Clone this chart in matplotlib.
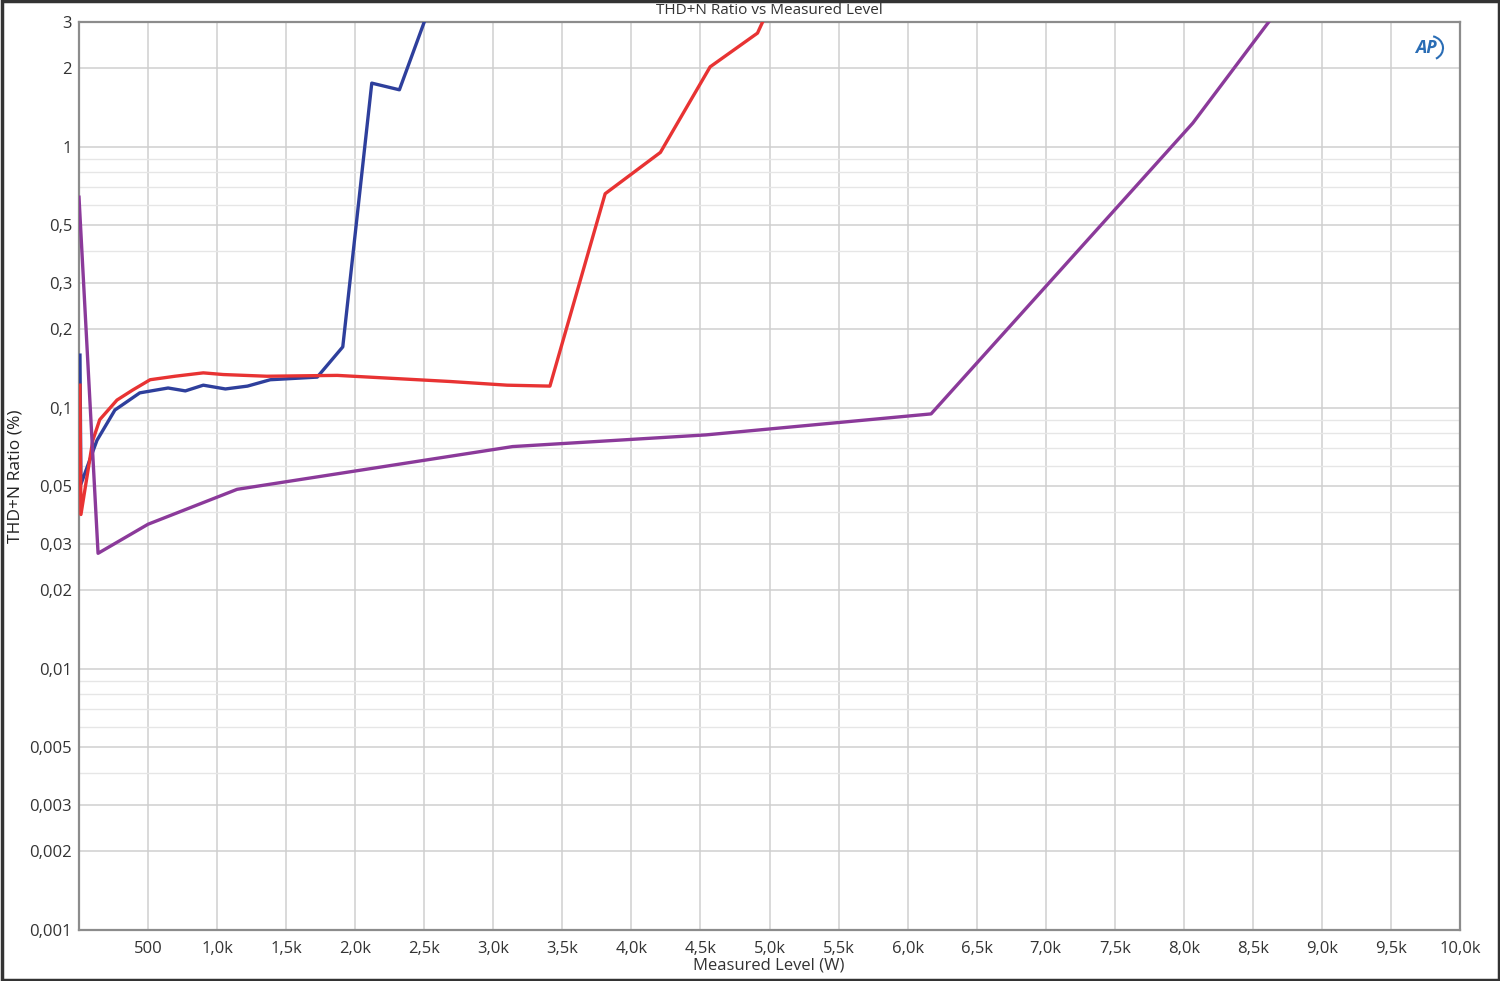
import matplotlib
matplotlib.use("Agg")
import matplotlib.pyplot as plt
from matplotlib.ticker import FixedLocator, NullFormatter, LogLocator
from matplotlib.patches import Rectangle, Arc

plt.rcParams['font.family'] = ['Open Sans', 'DejaVu Sans']

# ---- data ----
blue_x = [7, 14, 130, 260, 440, 645, 770, 900, 1060, 1220, 1385, 1725, 1910, 2120, 2320, 2500]
blue_y = [0.159, 0.051, 0.075, 0.098, 0.114, 0.119, 0.116, 0.122, 0.118, 0.121, 0.128, 0.131,
          0.171, 1.75, 1.65, 3.0]

red_x = [7, 14, 100, 150, 275, 390, 515, 695, 900, 1045, 1360, 1870, 2690, 3100, 3410,
         3810, 4210, 4570, 4913, 4950]
red_y = [0.122, 0.039, 0.075, 0.090, 0.107, 0.117, 0.128, 0.132, 0.136, 0.134, 0.132, 0.133,
         0.126, 0.122, 0.121, 0.66, 0.95, 2.02, 2.72, 3.0]

purple_x = [0, 138, 500, 1145, 3140, 4540, 6170, 8065, 8615]
purple_y = [0.64, 0.0277, 0.0358, 0.0487, 0.071, 0.0787, 0.0947, 1.23, 3.0]

x_ticks = [500, 1000, 1500, 2000, 2500, 3000, 3500, 4000, 4500, 5000, 5500, 6000, 6500,
           7000, 7500, 8000, 8500, 9000, 9500, 10000]
x_labels = ["500", "1,0k", "1,5k", "2,0k", "2,5k", "3,0k", "3,5k", "4,0k", "4,5k", "5,0k",
            "5,5k", "6,0k", "6,5k", "7,0k", "7,5k", "8,0k", "8,5k", "9,0k", "9,5k", "10,0k"]
y_ticks = [0.001, 0.002, 0.003, 0.005, 0.01, 0.02, 0.03, 0.05, 0.1, 0.2, 0.3, 0.5, 1, 2, 3]
y_labels = ["0,001", "0,002", "0,003", "0,005", "0,01", "0,02", "0,03", "0,05", "0,1", "0,2",
            "0,3", "0,5", "1", "2", "3"]

title = "THD+N Ratio vs Measured Level"
xlabel = "Measured Level (W)"
ylabel = "THD+N Ratio (%)"

# ---- figure ----
fig = plt.figure(figsize=(15, 9.81), dpi=100)
ax = fig.add_axes([79/1500, 1 - 930/981, (1460 - 79)/1500, (930 - 22)/981])

ax.set_yscale('log')
ax.set_xlim(0, 10000)
ax.set_ylim(0.001, 3)

# grid
ax.xaxis.set_major_locator(FixedLocator(x_ticks))
ax.set_xticklabels(x_labels)
ax.yaxis.set_major_locator(FixedLocator(y_ticks))
ax.set_yticklabels(y_labels)
ax.yaxis.set_minor_locator(LogLocator(base=10, subs=range(1, 10), numticks=50))
ax.yaxis.set_minor_formatter(NullFormatter())
ax.grid(True, which='major', color='#cfcfcf', lw=1.1)
ax.grid(True, which='minor', axis='y', color='#e6e6e6', lw=1.0)
ax.tick_params(which='both', length=0)
ax.tick_params(axis='x', pad=8, labelsize=12, labelcolor='#333333')
ax.tick_params(axis='y', pad=5, labelsize=12, labelcolor='#333333')

for s in ax.spines.values():
    s.set_color('#8c8c8c')
    s.set_linewidth(1.6)

ax.plot(blue_x, blue_y, color='#2e3f9c', lw=2.4, zorder=3)
ax.plot(red_x, red_y, color='#e83333', lw=2.4, zorder=4)
ax.plot(purple_x, purple_y, color='#8b3a9a', lw=2.4, zorder=5)

fig.text(769/1500, 1 - 11/981, title, ha='center', va='center', fontsize=11, color='#333333')
fig.text(769/1500, 1 - 966/981, xlabel, ha='center', va='center', fontsize=12, color='#333333')
fig.text(16/1500, 1 - 476/981, ylabel, ha='center', va='center', rotation=90, fontsize=12.5,
         color='#222222')

# AP logo
fig.text(1426/1500, 1 - 48/981, "AP", ha='center', va='center', fontsize=13, fontweight='bold',
         style='italic', color='#2a6db5')
fig.patches.append(Arc((1430/1500, 1 - 48/981), 26/1500, 24/981, theta1=-70, theta2=80,
                       transform=fig.transFigure, color='#2a6db5', lw=1.5))

# figure border
fig.patches.append(Rectangle((0.001, 0.001), 0.998, 0.998, transform=fig.transFigure,
                             fill=False, edgecolor='#333333', lw=2.5))

fig.savefig("out.png", dpi=100)
